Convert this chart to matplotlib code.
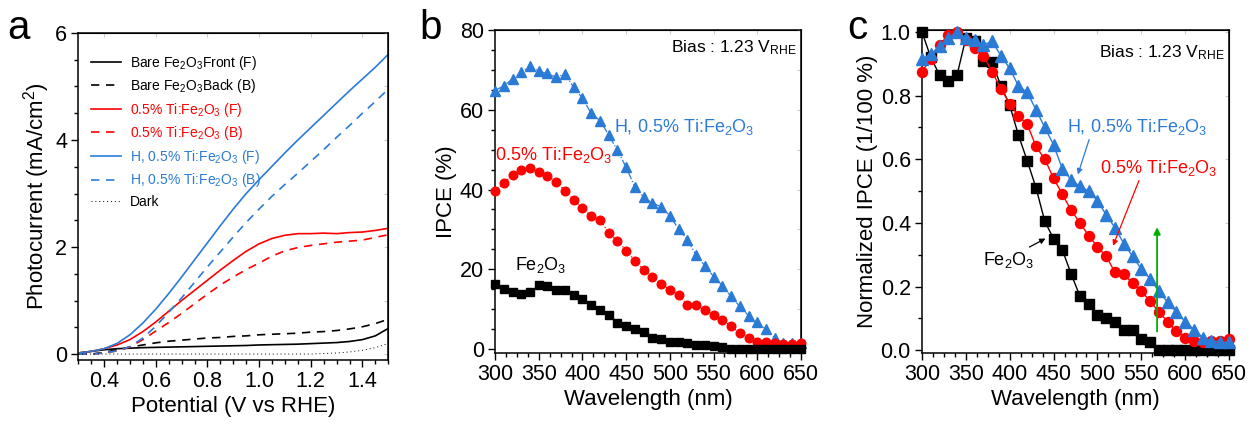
import matplotlib
matplotlib.use('Agg')
import matplotlib.pyplot as plt
from matplotlib.ticker import MultipleLocator

plt.rcParams['font.family'] = ['Liberation Sans', 'DejaVu Sans']
plt.rcParams['mathtext.fontset'] = 'custom'
plt.rcParams['mathtext.rm'] = 'Liberation Sans'
plt.rcParams['mathtext.it'] = 'Liberation Sans:italic'
plt.rcParams['mathtext.default'] = 'regular'

BLUE = '#2b7bd6'
RED = '#ff0000'

# ---- panel a : J-V curves ----
potential = [0.30, 0.35, 0.40, 0.45, 0.50, 0.55, 0.60, 0.65, 0.70, 0.75, 0.80, 0.85, 0.90,
             0.95, 1.00, 1.05, 1.10, 1.15, 1.20, 1.25, 1.30, 1.35, 1.40, 1.45, 1.50]
bare_front = [0.02, 0.05, 0.08, 0.10, 0.11, 0.12, 0.125, 0.13, 0.135, 0.14, 0.145, 0.15, 0.155,
              0.16, 0.17, 0.175, 0.18, 0.185, 0.195, 0.205, 0.215, 0.235, 0.27, 0.34, 0.48]
bare_back = [0.0, 0.0, 0.03, 0.08, 0.13, 0.17, 0.21, 0.24, 0.26, 0.28, 0.30, 0.31, 0.33,
             0.34, 0.36, 0.37, 0.38, 0.39, 0.41, 0.42, 0.44, 0.47, 0.51, 0.57, 0.65]
ti_front = [0.02, 0.05, 0.10, 0.17, 0.27, 0.42, 0.60, 0.80, 1.00, 1.19, 1.38, 1.57, 1.75,
            1.92, 2.06, 2.16, 2.22, 2.25, 2.25, 2.26, 2.25, 2.27, 2.28, 2.31, 2.35]
ti_back = [0.0, 0.0, 0.02, 0.06, 0.13, 0.27, 0.43, 0.59, 0.76, 0.94, 1.12, 1.29, 1.44,
           1.58, 1.70, 1.83, 1.93, 1.99, 2.03, 2.06, 2.09, 2.11, 2.13, 2.18, 2.23]
h_front = [0.02, 0.05, 0.10, 0.20, 0.36, 0.58, 0.84, 1.13, 1.44, 1.76, 2.08, 2.40, 2.71,
           3.00, 3.26, 3.51, 3.76, 4.00, 4.23, 4.46, 4.69, 4.92, 5.14, 5.36, 5.60]
h_back = [0.0, 0.0, 0.02, 0.06, 0.14, 0.30, 0.52, 0.78, 1.05, 1.34, 1.63, 1.91, 2.19,
          2.46, 2.71, 2.95, 3.17, 3.38, 3.60, 3.82, 4.05, 4.27, 4.50, 4.72, 4.95]
dark = [0.0, 0.0, 0.0, 0.0, 0.0, 0.0, 0.0, 0.0, 0.0, 0.0, 0.0, 0.0, 0.0,
        0.0, 0.0, 0.0, 0.0, 0.0, 0.0, 0.01, 0.02, 0.04, 0.07, 0.12, 0.20]

# ---- panel b : IPCE ----
wavelength = [300, 310, 320, 330, 340, 350, 360, 370, 380, 390, 400, 410, 420, 430, 440, 450, 460, 470,
              480, 490, 500, 510, 520, 530, 540, 550, 560, 570, 580, 590, 600, 610, 620, 630, 640, 650]
ipce_fe2o3 = [16.4, 15.1, 14.2, 13.8, 14.2, 16.1, 15.9, 14.9, 14.9, 13.6, 12.6, 11.1, 9.9, 8.6, 6.5, 5.7, 5.1, 4.2,
              2.9, 2.5, 1.9, 1.7, 1.5, 1.1, 1.1, 0.7, 0.5, 0.0, 0.0, 0.0, 0.0, 0.0, 0.0, 0.0, 0.0, 0.0]
ipce_ti = [39.7, 41.6, 43.7, 44.9, 45.3, 44.3, 43.3, 42.0, 39.7, 37.4, 35.3, 33.4, 32.4, 29.2, 27.2, 24.7, 22.2, 19.9,
           18.0, 16.4, 14.9, 13.6, 11.1, 11.1, 9.9, 8.6, 7.2, 5.7, 4.0, 2.8, 1.9, 1.7, 1.5, 1.3, 1.3, 1.5]
ipce_h = [64.8, 66.0, 67.7, 69.4, 71.0, 69.6, 69.1, 68.1, 69.0, 65.6, 62.9, 59.1, 57.3, 53.7, 49.8, 45.6, 40.6, 38.1,
          36.6, 35.7, 33.4, 30.1, 27.4, 23.6, 20.9, 18.2, 15.9, 13.2, 10.7, 8.4, 6.7, 5.0, 2.8, 1.5, 1.5, 1.5]

# ---- panel c : normalized IPCE ----
norm_fe2o3 = [1.0, 0.92, 0.865, 0.845, 0.865, 0.98, 0.97, 0.91, 0.905, 0.83, 0.77, 0.675, 0.595, 0.51, 0.405, 0.35, 0.315, 0.24,
              0.17, 0.145, 0.11, 0.10, 0.09, 0.065, 0.065, 0.035, 0.025, 0.0, 0.0, 0.0, 0.0, 0.0, 0.0, 0.0, 0.0, 0.0]
norm_ti = [0.875, 0.915, 0.96, 0.99, 1.0, 0.975, 0.95, 0.925, 0.875, 0.82, 0.775, 0.735, 0.71, 0.64, 0.60, 0.54, 0.49, 0.44,
           0.40, 0.36, 0.325, 0.295, 0.245, 0.24, 0.21, 0.185, 0.155, 0.12, 0.09, 0.06, 0.04, 0.03, 0.025, 0.03, 0.03, 0.035]
norm_h = [0.915, 0.93, 0.955, 0.98, 1.0, 0.98, 0.975, 0.96, 0.97, 0.925, 0.885, 0.83, 0.81, 0.755, 0.70, 0.645, 0.57, 0.535,
          0.515, 0.50, 0.47, 0.425, 0.385, 0.335, 0.295, 0.255, 0.225, 0.185, 0.15, 0.12, 0.09, 0.065, 0.04, 0.03, 0.025, 0.025]


def style_axes(ax):
    for s in ax.spines.values():
        s.set_linewidth(1.1)
    ax.tick_params(which='both', direction='out', top=False, right=False, labelsize=15.5, width=1.0, pad=3)
    ax.tick_params(which='major', length=5)
    ax.tick_params(which='minor', length=3)
    # faint inner ticks on the top / right
    sec = ax.secondary_xaxis('top')
    sec.tick_params(which='both', direction='in', labeltop=False, color='#cccccc', length=3)
    sec.set_xticklabels([])
    sec2 = ax.secondary_yaxis('right')
    sec2.tick_params(which='both', direction='in', labelright=False, color='#cccccc', length=3)
    sec2.set_yticklabels([])


fig = plt.figure(figsize=(12.59, 4.28), dpi=100)
axa = fig.add_axes([0.0622, 0.159, 0.2462, 0.764])
axb = fig.add_axes([0.3932, 0.175, 0.2430, 0.755])
axc = fig.add_axes([0.7323, 0.175, 0.2439, 0.755])

# panel a
lw = 1.2
axa.plot(potential, bare_front, color='black', lw=lw, label='Bare Fe$_2$O$_3$Front (F)')
axa.plot(potential, bare_back, color='black', lw=lw, ls=(0, (5, 4)), label='Bare Fe$_2$O$_3$Back (B)')
axa.plot(potential, ti_front, color=RED, lw=lw, label='0.5% Ti:Fe$_2$O$_3$ (F)')
axa.plot(potential, ti_back, color=RED, lw=lw, ls=(0, (5, 4)), label='0.5% Ti:Fe$_2$O$_3$ (B)')
axa.plot(potential, h_front, color=BLUE, lw=lw, label='H, 0.5% Ti:Fe$_2$O$_3$ (F)')
axa.plot(potential, h_back, color=BLUE, lw=lw, ls=(0, (5, 4)), label='H, 0.5% Ti:Fe$_2$O$_3$ (B)')
axa.plot(potential, dark, color='black', lw=0.7, ls=(0, (1, 3)), label='Dark')
axa.set_xlim(0.3, 1.5)
axa.set_ylim(-0.11, 6.0)
axa.xaxis.set_major_locator(MultipleLocator(0.2))
axa.xaxis.set_minor_locator(MultipleLocator(0.05))
axa.yaxis.set_major_locator(MultipleLocator(2))
axa.yaxis.set_minor_locator(MultipleLocator(0.5))
axa.xaxis.set_major_formatter(matplotlib.ticker.FormatStrFormatter('%.1f'))
axa.set_xlabel('Potential (V vs RHE)', fontsize=16, labelpad=3)
axa.set_ylabel('Photocurrent (mA/cm$^2$)', fontsize=16, labelpad=2)
style_axes(axa)
axa.legend(loc='upper left', bbox_to_anchor=(0.0, 0.975), frameon=False, fontsize=10,
           handlelength=2.2, handletextpad=0.6, labelspacing=0.4, labelcolor='linecolor')

# panel b
ms = dict(clip_on=False, zorder=3)
axb.plot(wavelength, ipce_h, color=BLUE, lw=0.9, ls='-.', marker='^', ms=7, **ms)
axb.plot(wavelength, ipce_ti, color=RED, lw=0.9, ls=':', marker='o', ms=6.2, **ms)
axb.plot(wavelength, ipce_fe2o3, color='black', lw=0.6, ls=':', marker='s', ms=5.4, **ms)
axb.set_xlim(300, 650)
axb.set_ylim(-1, 80)
axb.xaxis.set_major_locator(MultipleLocator(50))
axb.xaxis.set_minor_locator(MultipleLocator(12.5))
axb.yaxis.set_major_locator(MultipleLocator(20))
axb.yaxis.set_minor_locator(MultipleLocator(5))
axb.set_xlabel('Wavelength (nm)', fontsize=16, labelpad=3)
axb.set_ylabel('IPCE (%)', fontsize=16, labelpad=2)
style_axes(axb)
axb.text(436, 55.7, 'H, 0.5% Ti:Fe$_2$O$_3$', color=BLUE, fontsize=13, va='center')
axb.text(300, 48.6, '0.5% Ti:Fe$_2$O$_3$', color=RED, fontsize=13, va='center')
axb.text(323, 21, 'Fe$_2$O$_3$', color='black', fontsize=13, va='center')
axb.text(0.985, 0.945, 'Bias : 1.23 V$_{RHE}$', transform=axb.transAxes, ha='right', va='center', fontsize=12.5)

# panel c
axc.plot(wavelength, norm_fe2o3, color='black', lw=1.0, marker='s', ms=7, **ms)
axc.plot(wavelength, norm_ti, color=RED, lw=1.0, marker='o', ms=7.2, **ms)
axc.plot(wavelength, norm_h, color=BLUE, lw=1.0, marker='^', ms=8.5, **ms)
axc.set_xlim(300, 650)
axc.set_ylim(-0.009, 1.006)
axc.xaxis.set_major_locator(MultipleLocator(50))
axc.xaxis.set_minor_locator(MultipleLocator(12.5))
axc.yaxis.set_major_locator(MultipleLocator(0.2))
axc.yaxis.set_minor_locator(MultipleLocator(0.1))
axc.yaxis.set_major_formatter(matplotlib.ticker.FormatStrFormatter('%.1f'))
axc.set_xlabel('Wavelength (nm)', fontsize=16, labelpad=3)
axc.set_ylabel('Normalized IPCE (1/100 %)', fontsize=16, labelpad=2)
style_axes(axc)
axc.text(465, 0.70, 'H, 0.5% Ti:Fe$_2$O$_3$', color=BLUE, fontsize=13, va='center')
axc.text(503, 0.572, '0.5% Ti:Fe$_2$O$_3$', color=RED, fontsize=13, va='center')
axc.text(369, 0.283, 'Fe$_2$O$_3$', color='black', fontsize=13, va='center')
axc.text(0.985, 0.93, 'Bias : 1.23 V$_{RHE}$', transform=axc.transAxes, ha='right', va='center', fontsize=12.5)
axc.annotate('', xy=(476.7, 0.544), xytext=(491.5, 0.67),
             arrowprops=dict(arrowstyle='-|>', color=BLUE, lw=0.9, mutation_scale=8))
axc.annotate('', xy=(516.6, 0.32), xytext=(548.5, 0.541),
             arrowprops=dict(arrowstyle='-|>', color=RED, lw=0.9, mutation_scale=8))
axc.annotate('', xy=(443.6, 0.355), xytext=(419.7, 0.32),
             arrowprops=dict(arrowstyle='-|>', color='black', lw=0.9, mutation_scale=8))
axc.annotate('', xy=(568, 0.395), xytext=(568, 0.05),
             arrowprops=dict(arrowstyle='-|>', color='#00b000', lw=1.3, mutation_scale=10), zorder=5)

# panel letters
fig.text(0.006, 0.908, 'a', fontsize=29)
fig.text(0.333, 0.908, 'b', fontsize=29)
fig.text(0.673, 0.908, 'c', fontsize=29)

fig.savefig('out.png', dpi=100)
